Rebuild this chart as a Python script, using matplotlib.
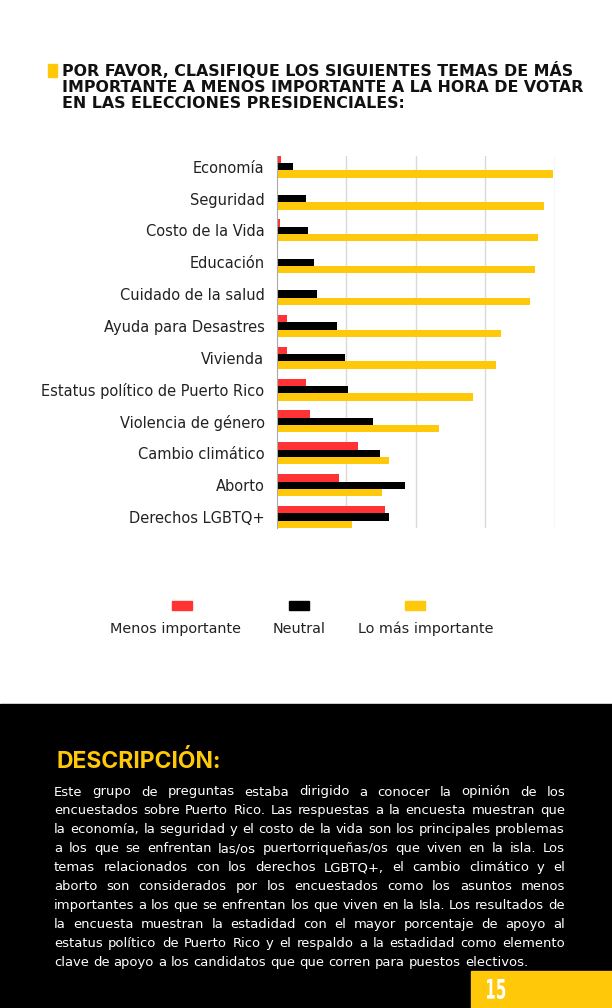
import numpy as np
from matplotlib import pyplot as plt
from matplotlib.patches import Rectangle, PathPatch
from matplotlib.textpath import TextPath
from matplotlib.font_manager import FontProperties
from matplotlib.transforms import Affine2D

plt.rcParams['font.family'] = ['DejaVu Sans']

# data (gridline step = 20)
temas = ['Economía', 'Seguridad', 'Costo de la Vida', 'Educación',
         'Cuidado de la salud', 'Ayuda para Desastres', 'Vivienda',
         'Estatus político de Puerto Rico', 'Violencia de género',
         'Cambio climático', 'Aborto', 'Derechos LGBTQ+']
menos = [1.2, 0.0, 0.8, 0.3, 0.3, 2.8, 2.8, 8.4, 9.6, 23.2, 18.0, 31.2]
neutral = [4.5, 8.4, 8.8, 10.8, 11.6, 17.2, 19.6, 20.4, 27.6, 29.6, 37.0, 32.2]
mas = [79.4, 76.8, 75.2, 74.4, 73.0, 64.4, 63.0, 56.6, 46.8, 32.4, 30.2, 21.6]
series_names = ['Menos importante', 'Neutral', 'Lo más importante']
colors = ['#FF3333', '#000000', '#FFC808']

title_lines = ['POR FAVOR, CLASIFIQUE LOS SIGUIENTES TEMAS DE MÁS',
               'IMPORTANTE A MENOS IMPORTANTE A LA HORA DE VOTAR',
               'EN LAS ELECCIONES PRESIDENCIALES:']
parrafo = [
    'Este grupo de preguntas estaba dirigido a conocer la opinión de los',
    'encuestados sobre Puerto Rico. Las respuestas a la encuesta muestran que',
    'la economía, la seguridad y el costo de la vida son los principales problemas',
    'a los que se enfrentan las/os puertorriqueñas/os que viven en la isla. Los',
    'temas relacionados con los derechos LGBTQ+, el cambio climático y el',
    'aborto son considerados por los encuestados como los asuntos menos',
    'importantes a los que se enfrentan los que viven en la Isla. Los resultados de',
    'la encuesta muestran la estadidad con el mayor porcentaje de apoyo al',
    'estatus político de Puerto Rico y el respaldo a la estadidad como elemento',
    'clave de apoyo a los candidatos que que corren para puestos electivos.',
]
pagina = '15'

W, H = 612, 1008


def fx(px):
    return px / W


def fy(py):
    return 1 - py / H


fig = plt.figure(figsize=(W / 100, H / 100), dpi=100)
fig.patch.set_facecolor('white')
renderer = fig.canvas.get_renderer()


def text_width(s, size, **kw):
    t = fig.text(0, 0, s, fontsize=size, **kw)
    w = t.get_window_extent(renderer).width
    t.remove()
    return w


# chart
ax = fig.add_axes([fx(277), fy(528), (554.7 - 277) / W, (528 - 155.7) / H])
n = len(temas)
y = np.arange(n)
h = 0.23
for i, vals in enumerate([menos, neutral, mas]):
    ax.barh(y + (i - 1) * h, vals, height=h, color=colors[i], zorder=3)

ax.set_ylim(n - 1 + 1.5 * h, -1.5 * h)
ax.set_xlim(0, 80)
ax.set_xticks([20, 40, 60, 80])
ax.set_xticklabels([])
ax.set_yticks(y)
ax.set_yticklabels(temas, fontsize=10.5, color='#222222')
ax.tick_params(length=0, pad=9)
ax.grid(axis='x', color='#d9d9d9', linewidth=1, zorder=0)
for side in ['top', 'right', 'bottom']:
    ax.spines[side].set_visible(False)
ax.spines['left'].set_color('#aaaaaa')
ax.spines['left'].set_zorder(4)

# title
fig.patches.append(Rectangle((fx(48), fy(77)), 9 / W, 13 / H,
                             transform=fig.transFigure, color=colors[2]))
for i, line in enumerate(title_lines):
    fig.text(fx(62), fy(70 + 17 * i), line, fontsize=11.45, fontweight='bold',
             va='center', ha='left', color='#111111')

# legend
patch_x = [172.3, 289, 405.3]
label_x = [175.5, 299.3, 425.7]
for i, name in enumerate(series_names):
    fig.patches.append(Rectangle((fx(patch_x[i]), fy(610)), 19.5 / W, 9.5 / H,
                                 transform=fig.transFigure, color=colors[i]))
    fig.text(fx(label_x[i]), fy(629), name, fontsize=10.4, ha='center',
             va='center', color='#222222')

# black footer band
fig.patches.append(Rectangle((0, 0), 1, (H - 704) / H,
                             transform=fig.transFigure, color='black'))
fig.patches.append(Rectangle((fx(471), 0), (W - 471) / W, (H - 971) / H,
                             transform=fig.transFigure, color=colors[2]))

# condensed page number drawn as a squeezed text path (pixel coords)
tp = TextPath((0, 0), pagina, size=27.5,
              prop=FontProperties(family='DejaVu Sans', weight='bold'))
ext = tp.get_extents()
sx = 18.3 / ext.width
sy = 20.0 / ext.height
tr = Affine2D().translate(-ext.x0, -ext.y0).scale(sx, sy).translate(487, H - 999)
fig.patches.append(PathPatch(tr.transform_path(tp), color='white', lw=0,
                             transform=None))

fig.text(fx(57), fy(762), 'DESCRIPCIÓN:', family=['Inter', 'DejaVu Sans'],
         fontsize=16.5, fontweight='bold', color=colors[2], ha='left', va='center')

# justified paragraph; size chosen so the widest line just fits the column
x0, x1 = 54, 565
widest = max(parrafo[:-1], key=lambda s: text_width(s, 10))
pfs = 10 * (x1 - x0 - 4) / text_width(widest, 10)
space = text_width('a a', pfs) - 2 * text_width('a', pfs)

for k, line in enumerate(parrafo):
    yy = fy(792 + 18.9 * k)
    words = line.split()
    widths = [text_width(w, pfs) for w in words]
    if k == len(parrafo) - 1:
        gap = space
    else:
        gap = (x1 - x0 - sum(widths)) / (len(words) - 1)
    x = x0
    for word, w in zip(words, widths):
        fig.text(fx(x), yy, word, fontsize=pfs, color='white',
                 ha='left', va='center')
        x += w + gap

fig.savefig('out.png', dpi=100)
